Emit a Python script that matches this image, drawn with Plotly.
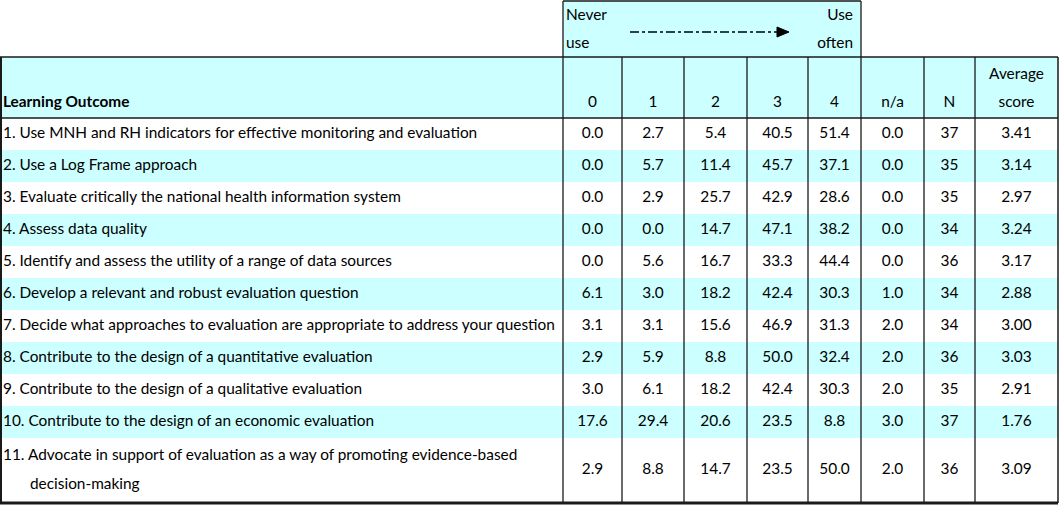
import plotly.graph_objects as go

# ---------------- data ----------------
outcomes = [
    "1. Use MNH and RH indicators for effective monitoring and evaluation",
    "2. Use a Log Frame approach",
    "3. Evaluate critically the national health information system",
    "4. Assess data quality",
    "5. Identify and assess the utility of a range of data sources",
    "6. Develop a relevant and robust evaluation question",
    "7. Decide what approaches to evaluation are appropriate to address your question",
    "8. Contribute to the design of a quantitative evaluation",
    "9. Contribute to the design of a qualitative evaluation",
    "10. Contribute to the design of an economic evaluation",
    "11. Advocate in support of evaluation as a way of promoting evidence-based\ndecision-making",
]
col_headers = ["0", "1", "2", "3", "4", "n/a", "N", "Average\nscore"]
score0 = [0.0, 0.0, 0.0, 0.0, 0.0, 6.1, 3.1, 2.9, 3.0, 17.6, 2.9]
score1 = [2.7, 5.7, 2.9, 0.0, 5.6, 3.0, 3.1, 5.9, 6.1, 29.4, 8.8]
score2 = [5.4, 11.4, 25.7, 14.7, 16.7, 18.2, 15.6, 8.8, 18.2, 20.6, 14.7]
score3 = [40.5, 45.7, 42.9, 47.1, 33.3, 42.4, 46.9, 50.0, 42.4, 23.5, 23.5]
score4 = [51.4, 37.1, 28.6, 38.2, 44.4, 30.3, 31.3, 32.4, 30.3, 8.8, 50.0]
na = [0.0, 0.0, 0.0, 0.0, 0.0, 1.0, 2.0, 2.0, 2.0, 3.0, 2.0]
n_resp = [37, 35, 35, 34, 36, 34, 34, 36, 35, 37, 36]
avg_score = [3.41, 3.14, 2.97, 3.24, 3.17, 2.88, 3.00, 3.03, 2.91, 1.76, 3.09]
scale_left = "Never\nuse"
scale_right = "Use\noften"
label_header = "Learning Outcome"

# ---------------- layout constants ----------------
W, H = 1059, 506
FONT = "Lato, Liberation Sans, sans-serif"
FS = 15.4
CYAN = "#CCFFFF"
col_edges = [0, 563, 622, 684, 747, 808, 861, 924, 975, 1058]
top_y0, head_y0, head_y1, bottom_y = 1, 57, 118, 503
row_h = 32
row_units = [1] * 10 + [2]

row_tops = []
y = head_y1
for u in row_units:
    row_tops.append(y)
    y += u * row_h
row_bottoms = row_tops[1:] + [bottom_y]
row_centers = [(a + b) / 2 for a, b in zip(row_tops, row_bottoms)]

fig = go.Figure()
shapes = []

# backgrounds
shapes.append(dict(type="rect", x0=col_edges[1], x1=col_edges[6], y0=top_y0, y1=head_y0,
                   fillcolor=CYAN, line=dict(width=0), layer="below"))
shapes.append(dict(type="rect", x0=col_edges[0], x1=col_edges[-1], y0=head_y0, y1=head_y1,
                   fillcolor=CYAN, line=dict(width=0), layer="below"))
for i, (t, b) in enumerate(zip(row_tops, row_bottoms)):
    if i % 2 == 1:
        shapes.append(dict(type="rect", x0=col_edges[0], x1=col_edges[-1], y0=t, y1=b,
                           fillcolor=CYAN, line=dict(width=0), layer="below"))

LC = "#1a1a1a"
def hline(y, x0, x1, w=1.3):
    shapes.append(dict(type="line", x0=x0, x1=x1, y0=y, y1=y, line=dict(color=LC, width=w)))
def vline(x, y0, y1, w=1.3):
    shapes.append(dict(type="line", x0=x, x1=x, y0=y0, y1=y1, line=dict(color=LC, width=w)))

# top block border
hline(top_y0, col_edges[1], col_edges[6])
vline(col_edges[1], top_y0, head_y0)
vline(col_edges[6], top_y0, head_y0)
# main grid
hline(head_y0, col_edges[0], col_edges[-1])
hline(head_y1, col_edges[0], col_edges[-1])
hline(bottom_y, col_edges[0], col_edges[-1], w=3)
vline(1, head_y0, bottom_y, w=2)
for x in col_edges[1:-1]:
    vline(x, head_y0, bottom_y)
vline(col_edges[-1], head_y0, bottom_y, w=1.5)

# arrow
shapes.append(dict(type="line", x0=630, x1=780, y0=32, y1=32,
                   line=dict(color="black", width=1.3, dash="dashdot")))
shapes.append(dict(type="path", path="M 777 27 L 789 32 L 777 37 Z",
                   fillcolor="black", line=dict(color="black", width=1)))

# ---------------- text ----------------
def text_trace(xs, ys, texts, pos="middle center", bold=False):
    fig.add_trace(go.Scatter(
        x=xs, y=ys, text=[f"<b>{t}</b>" if bold else t for t in texts], mode="text",
        textposition=pos, textfont=dict(family=FONT, size=FS, color="black"),
        hoverinfo="skip", showlegend=False))

# label column
lx, ly, lt = [], [], []
line_gap = 29
for txt, c, u in zip(outcomes, row_centers, row_units):
    parts = txt.split("\n")
    n = len(parts)
    for k, p in enumerate(parts):
        lx.append(3 if k == 0 else 30)
        ly.append(c + (k - (n - 1) / 2) * line_gap)
        lt.append(p)
text_trace(lx, ly, lt, pos="middle right")

# numeric columns
cols = [score0, score1, score2, score3, score4, na, n_resp, avg_score]
fmts = ["{:.1f}"] * 6 + ["{:d}", "{:.2f}"]
for j, (vals, f) in enumerate(zip(cols, fmts)):
    cx = (col_edges[j + 1] + col_edges[j + 2]) / 2
    text_trace([cx] * len(vals), row_centers, [f.format(v) for v in vals])

# headers
text_trace([3], [103], [label_header], pos="middle right", bold=True)
for j, h in enumerate(col_headers):
    cx = (col_edges[j + 1] + col_edges[j + 2]) / 2
    parts = h.split("\n")
    ys = [103 - (len(parts) - 1 - k) * 28 for k in range(len(parts))]
    text_trace([cx] * len(parts), ys, parts)

# scale labels
lp = scale_left.split("\n")
text_trace([566] * len(lp), [16, 44], lp, pos="middle right")
rp = scale_right.split("\n")
text_trace([853] * len(rp), [16, 44], rp, pos="middle left")

fig.update_layout(
    width=W, height=H, autosize=False,
    margin=dict(l=0, r=0, t=0, b=0),
    paper_bgcolor="white", plot_bgcolor="white",
    xaxis=dict(range=[0, W], visible=False, fixedrange=True),
    yaxis=dict(range=[H, 0], visible=False, fixedrange=True),
    shapes=shapes,
)
fig.write_html("out.html", config={"displayModeBar": False},
               post_script="document.body.style.margin='0';")
